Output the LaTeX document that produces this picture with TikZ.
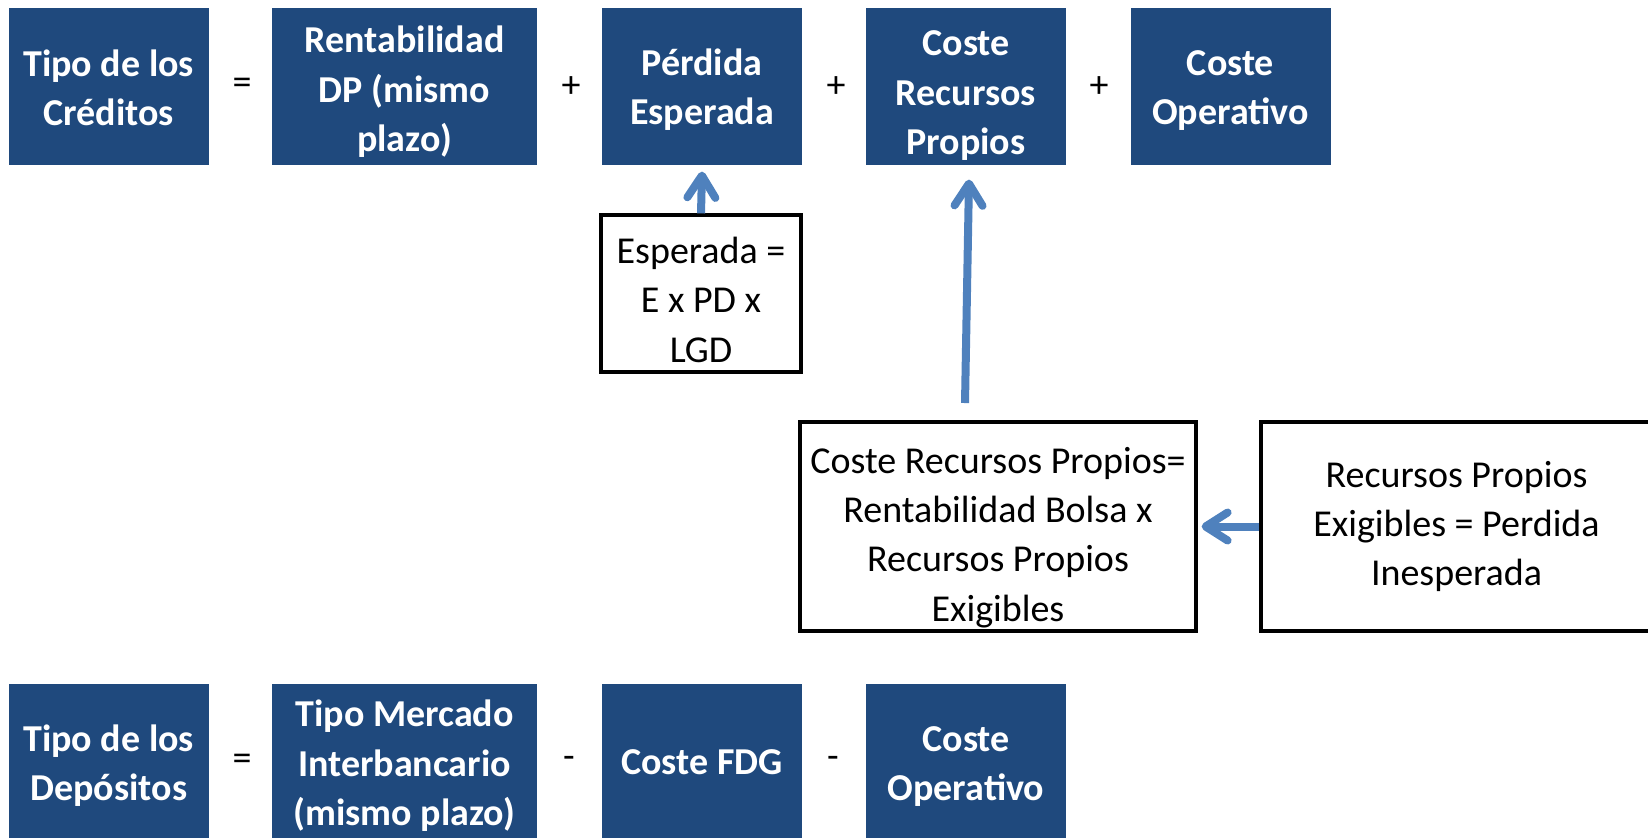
\documentclass[tikz,border=0pt]{standalone}
\usepackage{fontspec}
\setmainfont{Carlito}
\usetikzlibrary{arrows.meta}
\definecolor{boxblue}{HTML}{1F497D}
\definecolor{arrowblue}{HTML}{4F81BD}
\begin{document}
\begin{tikzpicture}[x=0.5pt,y=-0.5pt,
  bluebox/.style={fill=boxblue,text=white,font=\fontsize{19}{24.7}\selectfont\bfseries,align=center,minimum width=100pt,minimum height=78.5pt,inner sep=0pt},
  formbox/.style={draw=black,line width=1.6pt,font=\fontsize{19}{24.7}\selectfont,align=center,inner sep=0pt},
  opsign/.style={font=\fontsize{19}{24}\selectfont,inner sep=0pt},
  bluearrow/.style={draw=arrowblue,line width=4pt,-{Straight Barb[length=11pt,width=14pt,round]}}]
\useasboundingbox (0,0) rectangle (1648,837);
\pgfmathsetmacro\toprow{86.7};
\pgfmathsetmacro\botrow{762.5};
% tipo de los creditos
\node[bluebox,text height=39pt] (credtipo) at (108.7,\toprow) {Tipo de los\\Créditos};
\node[bluebox,minimum width=132.5pt,text height=68pt] (rentdp) at (404.5,\toprow) {Rentabilidad\\DP (mismo\\plazo)};
\node[bluebox,text height=41pt] (perdesp) at (702,\toprow) {Pérdida\\Esperada};
\node[bluebox,text height=71pt] (costerp) at (966,\toprow) {Coste\\Recursos\\Propios};
\node[bluebox,text height=41pt] (costeop) at (1230.5,\toprow) {Coste\\Operativo};
\foreach \x/\s [count=\i] in {242/=,571/+,836/+,1099/+} \node[opsign] (topop\i) at (\x,\toprow) {\s};
% formulas
\node[formbox,minimum width=100pt,minimum height=78.5pt,text height=69pt] (espform) at (701,293.5) {Esperada =\\ E x PD x\\LGD};
\node[formbox,minimum width=198pt,minimum height=104.5pt,text height=98pt] (crpform) at (998,526.5) {Coste Recursos Propios=\\Rentabilidad Bolsa x\\Recursos Propios\\Exigibles};
\node[formbox,minimum width=195.5pt,minimum height=104.5pt] (rpeform) at (1456.5,526.5) {Recursos Propios\\Exigibles = Perdida\\Inesperada};
\coordinate (crpstart) at (965,403);
\draw[bluearrow] (espform.north) -- ([yshift=-3pt]perdesp.south);
\draw[bluearrow] (crpstart) -- ([xshift=1.5pt,yshift=-7pt]costerp.south);
\draw[bluearrow] (rpeform.west) -- ([xshift=2pt]crpform.east);
% tipo de los depositos
\node[bluebox,text height=41pt] (deptipo) at (108.7,\botrow) {Tipo de los\\Depósitos};
\node[bluebox,minimum width=132.5pt,text height=66pt] (mercado) at (404.5,\botrow) {Tipo Mercado\\Interbancario\\(mismo plazo)};
\node[bluebox] (costefdg) at (702,\botrow) {Coste FDG};
\node[bluebox,text height=41pt] (depop) at (966,\botrow) {Coste\\Operativo};
\foreach \x/\s [count=\i] in {242/=,569/-,833/-} \node[opsign] (botop\i) at (\x,\botrow) {\s};
\end{tikzpicture}
\end{document}
